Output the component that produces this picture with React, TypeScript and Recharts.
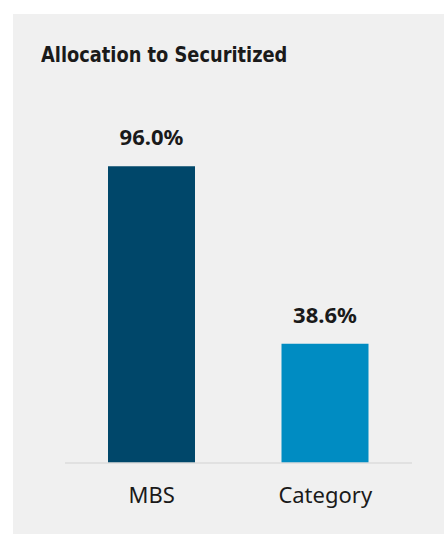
import { BarChart, Bar, XAxis, YAxis, Cell, LabelList } from 'recharts';

// Allocation to Securitized — fund vs category
const categories = ['MBS', 'Category'];
const allocation = [96.0, 38.6];
const barColors = ['#00476A', '#008CC2'];

const PANEL_BG = '#F0F0F0';
const INK = '#1A1A1A';

const data = categories.map((name, i) => ({ name, value: allocation[i] }));

export default function App() {
  return (
    <div
      style={{
        position: 'absolute',
        left: 13,
        top: 14,
        width: 431,
        height: 520,
        background: PANEL_BG,
        overflow: 'hidden',
      }}
    >
      <div
        style={{
          position: 'absolute',
          left: 28,
          top: 30,
          fontFamily: '"Liberation Sans Narrow", "DejaVu Sans Condensed", sans-serif',
          fontWeight: 700,
          fontSize: 22,
          lineHeight: 1,
          color: INK,
          whiteSpace: 'nowrap',
          transform: 'scaleX(0.9)',
          transformOrigin: 'left center',
        }}
      >
        Allocation to Securitized
      </div>
      <BarChart
        width={431}
        height={520}
        data={data}
        margin={{ top: 140, right: 32, left: 52, bottom: 41 }}
      >
        <YAxis hide domain={[0, 100]} />
        <XAxis
          dataKey="name"
          height={30}
          axisLine={{ stroke: '#DCDCDC', strokeWidth: 1.5 }}
          tickLine={false}
          tickMargin={18}
          tick={{ fill: INK, fontSize: 22, fontFamily: '"Noto Sans", sans-serif' }}
        />
        <Bar dataKey="value" barSize={87} isAnimationActive={false}>
          {data.map((d, i) => (
            <Cell key={d.name} fill={barColors[i]} />
          ))}
          <LabelList
            dataKey="value"
            position="top"
            offset={21}
            formatter={(v: number) => `${v.toFixed(1)}%`}
            style={{ fill: INK, fontSize: 22, fontWeight: 700, fontFamily: '"Noto Sans", sans-serif' }}
          />
        </Bar>
      </BarChart>
    </div>
  );
}
